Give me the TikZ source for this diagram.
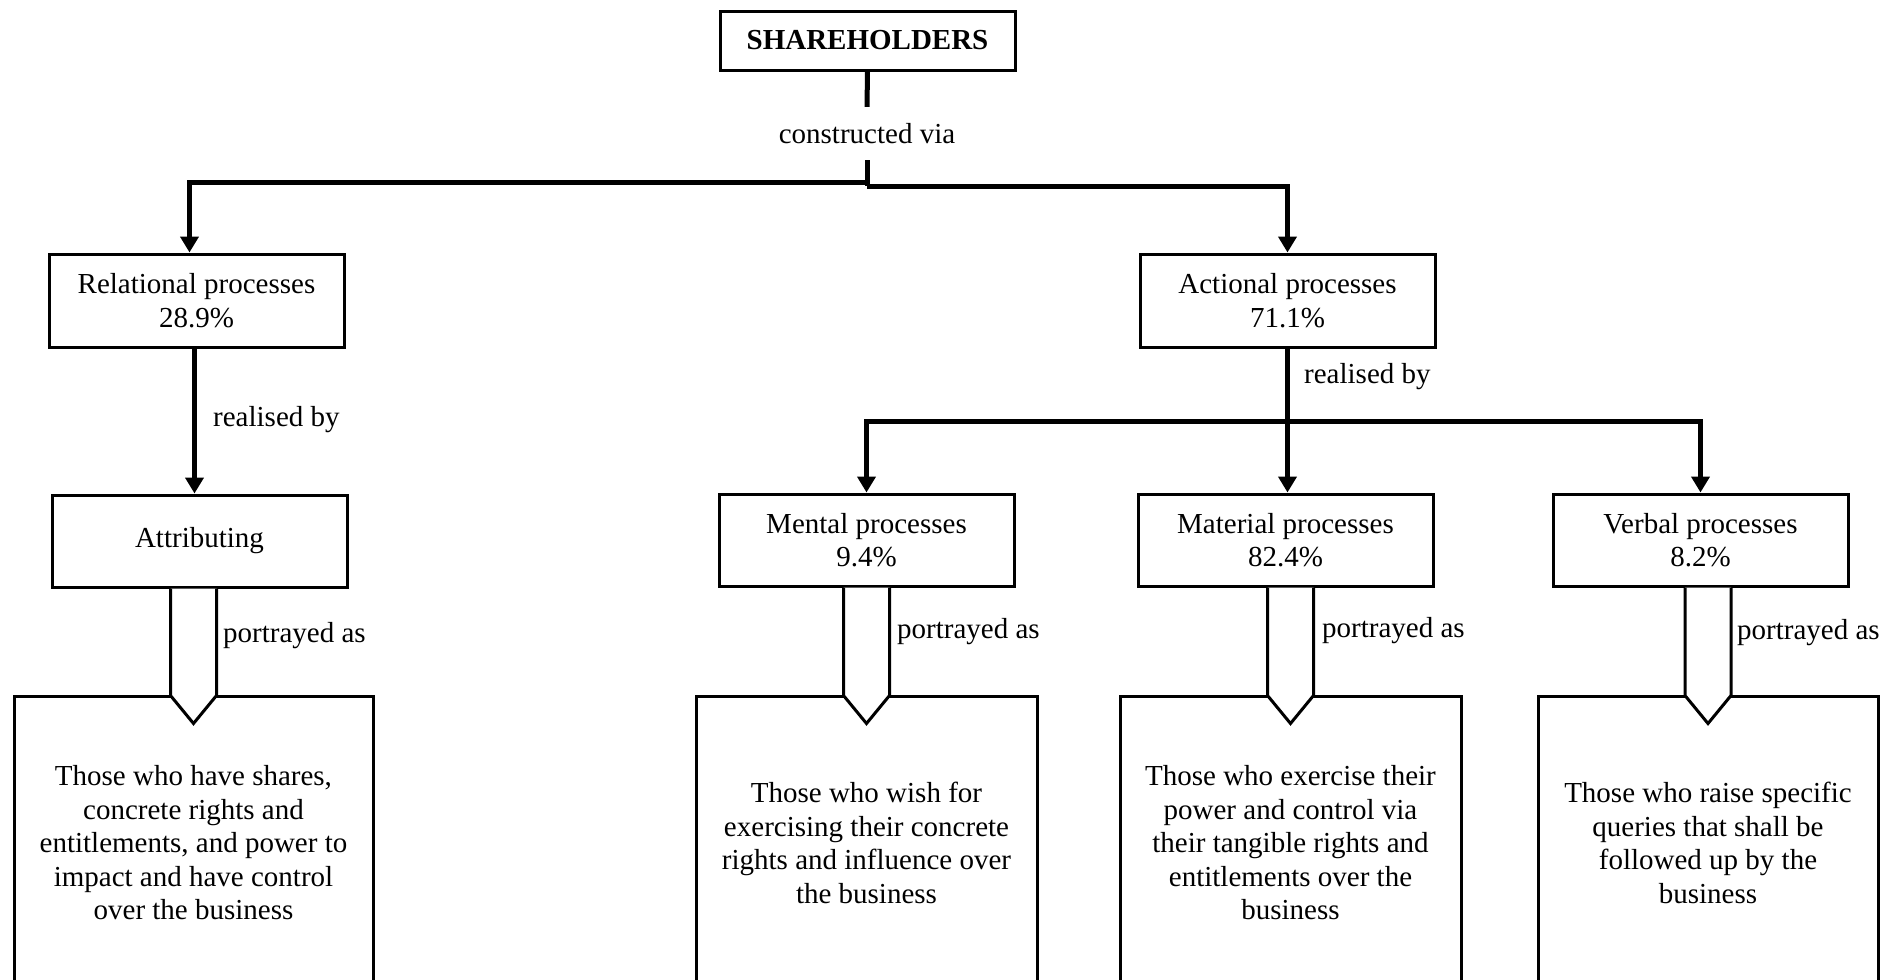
\documentclass[tikz,border=0pt]{standalone}
\usepackage{fontspec}
\setmainfont{Liberation Serif}
\usetikzlibrary{arrows.meta,calc}
\begin{document}
\begin{tikzpicture}[x=1pt,y=-1pt,
  every node/.style={font=\fontsize{29}{33.5}\selectfont},
  box/.style={draw,line width=3pt,minimum width=295pt,minimum height=92pt,align=center,inner sep=0pt},
  resbox/.style={draw,line width=3pt,minimum height=294pt,align=center,inner sep=0pt},
  lbl/.style={inner sep=0pt,anchor=west},
  conn/.style={line width=5pt},
  tip/.style={-{Triangle[length=16pt,width=18pt]}},
  barrow/.style={draw,fill=white,line width=3pt,line join=miter}
]
\useasboundingbox (0,0) rectangle (1888,980);
\clip (0,0) rectangle (1888,980);

% nodes
\node[box,minimum height=59pt,font=\fontsize{29}{33.5}\selectfont\bfseries] (sh) at (867.5,40.5) {SHAREHOLDERS};
\node[inner sep=0pt,minimum height=53pt] (cv) at (867,133.5) {constructed via};
\node[box,minimum height=93pt] (rel) at (196.5,300.5) {Relational processes\\28.9\%};
\node[box,minimum height=93pt] (act) at (1287.5,300.5) {Actional processes\\71.1\%};
\node[box] (attr) at (199.5,541) {Attributing};
\node[box] (men) at (866.5,540) {Mental processes\\9.4\%};
\node[box] (mat) at (1285.5,540) {Material processes\\82.4\%};
\node[box] (verb) at (1700.5,540) {Verbal processes\\8.2\%};

\node[resbox,minimum width=359pt] (r1) at (193.5,843) {Those who have shares,\\concrete rights and\\entitlements, and power to\\impact and have control\\over the business};
\node[resbox,minimum width=341pt] (r2) at (866.5,843) {Those who wish for\\exercising their concrete\\rights and influence over\\the business};
\node[resbox,minimum width=341pt] (r3) at (1290.5,843) {Those who exercise their\\power and control via\\their tangible rights and\\entitlements over the\\business};
\node[resbox,minimum width=340pt] (r4) at (1708,843) {Those who raise specific\\queries that shall be\\followed up by the\\business};

% top connectors
\coordinate (j1) at (867,182);
\coordinate (j1b) at (867,186);
\draw[conn] (sh.south) -- (cv.north);
\draw[conn] (cv.south) -- (j1b);
\draw[conn,tip] (j1) -- ($(j1 -| rel.north)+(-7,0)$) -- ($(rel.north)+(-7,0)$);
\draw[conn,tip] (j1b) -- (j1b -| act.north) -- (act.north);

% relational branch
\draw[conn,tip] ($(rel.south)+(-2,0)$) -- ($(rel.south |- attr.north)+(-2,0)$);
\node[lbl] (rb1) at (213,420) {realised by};

% actional branch
\coordinate (j2) at (1287,421);
\draw[conn,tip] (act.south) -- (act.south |- mat.north);
\draw[conn,{Triangle[length=16pt,width=18pt]}-{Triangle[length=16pt,width=18pt]}] (men.north) -- (men.north |- j2) -- (verb.north |- j2) -- (verb.north);
\node[lbl] (rb2) at (1304,377) {realised by};

% block arrows
\newcommand{\blockarr}[2]{%
  \draw[barrow] ($(#1.south -| #2.north)+(-23,0)$) -- ($(#2.north)+(-23,1)$) -- ($(#2.north)+(0,29)$) -- ($(#2.north)+(23,1)$) -- ($(#1.south -| #2.north)+(23,0)$);}
\blockarr{attr}{r1}
\blockarr{men}{r2}
\blockarr{mat}{r3}
\blockarr{verb}{r4}

\node[lbl] (p1) at (223,636) {portrayed as};
\node[lbl] (p2) at (897,632) {portrayed as};
\node[lbl] (p3) at (1322,631) {portrayed as};
\node[lbl] (p4) at (1737,633) {portrayed as};
\end{tikzpicture}
\end{document}
